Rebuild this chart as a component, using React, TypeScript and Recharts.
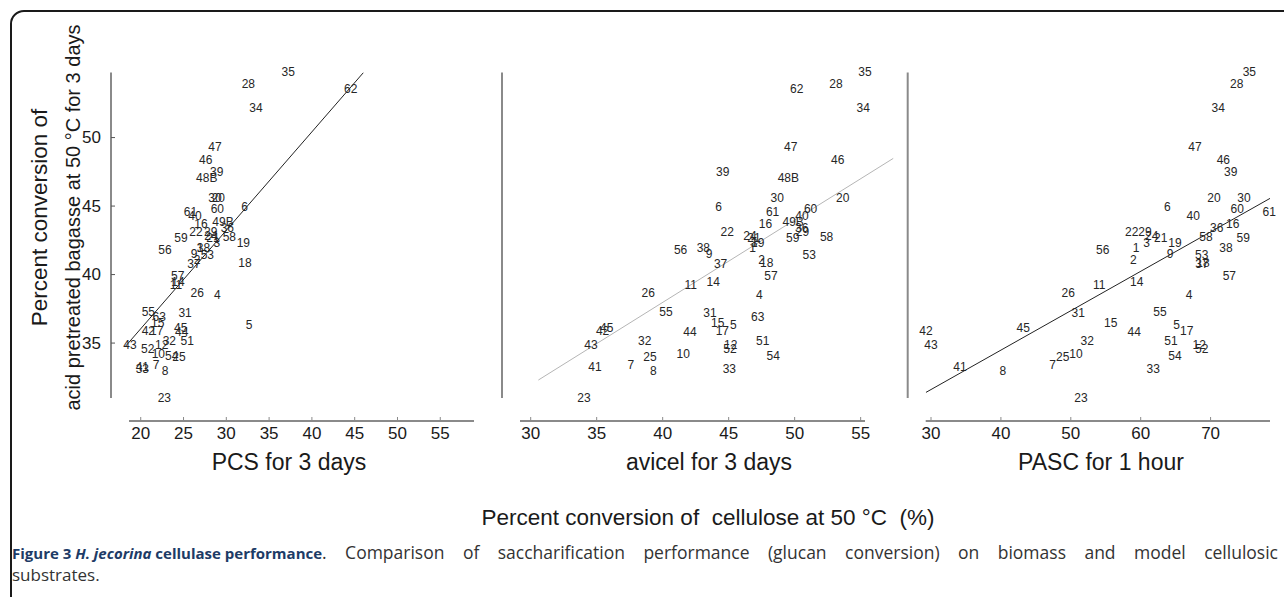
import React from "react";
import { ScatterChart, Scatter, XAxis, YAxis, ReferenceLine } from "recharts";

// strain numbers, one entry per label drawn in the panels
const strains = [
  "35", "28", "62", "34", "47", "46", "39", "48B", "30", "20", "6", "60", "61", "40", "49B", "16",
  "36", "22", "29", "24", "21", "59", "58", "3", "19", "1", "38", "56", "9", "53", "2", "18",
  "37", "57", "14", "11", "26", "4", "55", "31", "63", "15", "5", "45", "42", "17", "44", "32",
  "51", "43", "12", "52", "10", "25", "54", "7", "41", "33", "8", "23",
];

// % conversion of acid pretreated bagasse, 50 °C, 3 days (shared y of all panels)
const bagasse = [
  54.76, 53.94, 53.58, 52.17, 49.34, 48.34, 47.46, 47.08, 45.56, 45.56, 44.93, 44.76, 44.55, 44.27, 43.87, 43.66,
  43.39, 43.14, 43.14, 42.81, 42.66, 42.7, 42.72, 42.28, 42.28, 41.95, 41.96, 41.79, 41.5, 41.46, 41.09, 40.85,
  40.8, 39.89, 39.43, 39.23, 38.65, 38.53, 37.24, 37.23, 36.9, 36.46, 36.35, 36.07, 35.88, 35.85, 35.8, 35.15,
  35.15, 34.89, 34.89, 34.54, 34.2, 34.01, 34.05, 33.43, 33.27, 33.09, 32.96, 30.99,
];

// PCS, 3 days
const pcs = [
  37.24, 32.57, 44.53, 33.47, 28.68, 27.59, 28.88, 27.71, 28.68, 29.07, 32.13, 28.95, 25.82, 26.34, 29.61, 27.04,
  30.12, 26.46, 28.18, 28.21, 28.45, 24.71, 30.35, 28.88, 31.99, 26.93, 27.34, 22.84, 26.23, 27.78, 26.58, 32.18,
  26.23, 24.32, 24.36, 24.12, 26.61, 28.95, 20.89, 25.18, 22.17, 21.99, 32.65, 24.67, 20.89, 21.87, 24.79, 23.34,
  25.44, 18.75, 22.45, 20.82, 22.06, 24.47, 23.62, 21.79, 20.19, 20.19, 22.84, 22.76,
];

// avicel, 3 days
const avicel = [
  55.33, 53.13, 50.15, 55.2, 49.7, 53.26, 44.55, 49.52, 48.68, 53.64, 44.23, 51.21, 48.33, 50.55, 49.89, 47.79,
  50.53, 44.89, 50.59, 46.61, 46.92, 49.85, 52.42, 46.92, 47.2, 46.82, 43.08, 41.36, 43.51, 51.11, 47.5, 47.88,
  44.39, 48.2, 43.83, 42.12, 38.91, 47.32, 40.25, 43.58, 47.2, 44.17, 45.35, 35.76, 35.45, 44.52, 42.07, 38.64,
  47.58, 34.57, 45.15, 45.1, 41.56, 39.04, 48.38, 37.58, 34.87, 45.05, 39.29, 34.04,
];

// PASC, 1 hour (null = not shown)
const pasc = [
  75.54, 73.73, null, 71.1, 67.77, 71.82, 72.88, null, 74.78, 70.49, 63.81, 73.82, 78.4, 67.52, null, 73.16,
  70.87, 58.71, 60.62, 61.57, 62.86, 74.68, 69.34, 60.86, 64.91, 59.33, 72.2, 54.56, 64.19, 68.73, 58.94, 68.91,
  68.77, 72.68, 59.43, 54.08, 49.64, 66.91, 62.76, 51.07, null, 55.71, 65.15, 43.2, 29.28, 66.58, 59.08, 52.36,
  64.33, 30.0, 68.38, 68.73, 50.74, 48.84, 64.91, 47.41, 34.15, 61.8, 40.26, 51.46,
];

// fitted lines, end points
const pcsFit = [{ x: 18.17, y: 34.73 }, { x: 46.0, y: 54.73 }];
const avicelFit = [{ x: 30.58, y: 32.3 }, { x: 57.47, y: 48.48 }];
const pascFit = [{ x: 29.28, y: 31.4 }, { x: 78.5, y: 45.56 }];

const yTicks = [35, 40, 45, 50];
const pcsTicks = [20, 25, 30, 35, 40, 45, 50, 55];
const avicelTicks = [30, 35, 40, 45, 50, 55];
const pascTicks = [30, 40, 50, 60, 70];

const FONT = "'Liberation Sans', Arial, Helvetica, sans-serif";

// axes in the figure sit apart from the plot box
const X_SHIFT = 23;
const Y_SHIFT = -18;

type Pt = { x: number; y: number; label: string };

function buildPoints(xs: (number | null)[]): Pt[] {
  const out: Pt[] = [];
  xs.forEach((x, i) => {
    if (x != null) out.push({ x, y: bagasse[i], label: strains[i] });
  });
  return out;
}

function LabelMark(props: any) {
  const { cx, cy, payload } = props;
  if (cx == null || cy == null) return null;
  return (
    <text
      x={cx}
      y={cy}
      textAnchor="middle"
      dominantBaseline="central"
      fontSize={12}
      fontFamily={FONT}
      fill="#262626"
    >
      {payload.label}
    </text>
  );
}

function XTick(props: any) {
  const { x, y, payload } = props;
  return (
    <text
      x={x}
      y={y + 29.5}
      textAnchor="middle"
      dominantBaseline="central"
      fontSize={17}
      fontFamily={FONT}
      fill="#1a1a1a"
    >
      {payload.value}
    </text>
  );
}

function YTick(props: any) {
  const { x, y, payload } = props;
  return (
    <text
      x={x - 18}
      y={y}
      textAnchor="end"
      dominantBaseline="central"
      fontSize={17}
      fontFamily={FONT}
      fill="#1a1a1a"
    >
      {payload.value}
    </text>
  );
}

type PanelProps = {
  left: number;
  width: number;
  marginLeft: number;
  marginRight: number;
  xDomain: [number, number];
  xTicks: number[];
  points: Pt[];
  fit: { x: number; y: number }[];
  fitColor: string;
  showYLabels: boolean;
};

function Panel(p: PanelProps) {
  const xMove = `translate(0 ${X_SHIFT})`;
  const yMove = `translate(${Y_SHIFT} 0)`;
  return (
    <div style={{ position: "absolute", left: p.left, top: 0 }}>
      <ScatterChart
        width={p.width}
        height={480}
        margin={{ top: 72.5, right: p.marginRight, bottom: 52, left: p.marginLeft }}
      >
        <XAxis
          type="number"
          dataKey="x"
          domain={p.xDomain}
          ticks={p.xTicks}
          allowDataOverflow
          height={30}
          tickSize={-4}
          tickMargin={10}
          axisLine={{ stroke: "#8a8a8a", strokeWidth: 2, transform: xMove }}
          tickLine={{ stroke: "#8a8a8a", transform: xMove }}
          tick={<XTick />}
        />
        <YAxis
          type="number"
          dataKey="y"
          domain={[30.99, 54.75]}
          ticks={yTicks}
          allowDataOverflow
          width={40}
          tickSize={-4}
          tickMargin={14}
          axisLine={{ stroke: "#8a8a8a", strokeWidth: 2, transform: yMove }}
          tickLine={{ stroke: "#555", transform: yMove }}
          tick={p.showYLabels ? <YTick /> : false}
        />
        <ReferenceLine
          segment={p.fit}
          stroke={p.fitColor}
          strokeWidth={1}
          ifOverflow="visible"
        />
        <Scatter data={p.points} shape={<LabelMark />} isAnimationActive={false} />
      </ScatterChart>
    </div>
  );
}

export default function App() {
  return (
    <div
      className="fig"
      style={{
        position: "absolute",
        left: 0,
        top: 0,
        width: 1284,
        height: 597,
        overflow: "hidden",
        background: "#fff",
      }}
    >
      <style>{`
        .fig .recharts-surface { overflow: visible; }
        .fig g[clip-path] { clip-path: none !important; }
      `}</style>

      {/* frame */}
      <div
        style={{
          position: "absolute",
          left: 10,
          top: 10,
          width: 1300,
          height: 620,
          border: "2px solid #1a1a1a",
          borderRadius: 14,
          boxSizing: "border-box",
        }}
      />

      <Panel
        left={0}
        width={480}
        marginLeft={89}
        marginRight={6}
        xDomain={[18.63, 58.94]}
        xTicks={pcsTicks}
        points={buildPoints(pcs)}
        fit={pcsFit}
        fitColor="#222"
        showYLabels
      />
      <Panel
        left={420}
        width={500}
        marginLeft={60}
        marginRight={55}
        xDomain={[29.19, 55.33]}
        xTicks={avicelTicks}
        points={buildPoints(avicel)}
        fit={avicelFit}
        fitColor="#b5b5b5"
        showYLabels={false}
      />
      <Panel
        left={840}
        width={444}
        marginLeft={45.7}
        marginRight={14}
        xDomain={[29.24, 78.5]}
        xTicks={pascTicks}
        points={buildPoints(pasc)}
        fit={pascFit}
        fitColor="#222"
        showYLabels={false}
      />

      {/* axis titles */}
      <svg
        width={1284}
        height={597}
        style={{ position: "absolute", left: 0, top: 0, pointerEvents: "none" }}
        fontFamily={FONT}
        fill="#1a1a1a"
      >
        <text transform="translate(47,217.5) rotate(-90)" textAnchor="middle" fontSize={22.5}>
          Percent conversion of
        </text>
        <text transform="translate(80,217.5) rotate(-90)" textAnchor="middle" fontSize={20}>
          acid pretreated bagasse at 50 °C for 3 days
        </text>
        <text x={289} y={470} textAnchor="middle" fontSize={23}>PCS for 3 days</text>
        <text x={709} y={470} textAnchor="middle" fontSize={23}>avicel for 3 days</text>
        <text x={1101} y={470} textAnchor="middle" fontSize={23}>PASC for 1 hour</text>
        <text x={708} y={525} textAnchor="middle" fontSize={22.5} xmlSpace="preserve">
          Percent conversion of  cellulose at 50 °C  (%)
        </text>
      </svg>

      {/* caption */}
      <div
        style={{
          position: "absolute",
          left: 12,
          top: 541,
          width: 1266,
          fontFamily: "'Open Sans', sans-serif",
          lineHeight: "22px",
          color: "#333",
        }}
      >
        <div style={{ display: "flex", whiteSpace: "nowrap", alignItems: "baseline" }}>
          <span style={{ fontWeight: 700, fontSize: 15, color: "#1d3b66", flex: "none" }}>
            Figure 3 <i>H. jecorina</i> cellulase performance
          </span>
          <span
            style={{
              flex: 1,
              fontSize: 17.5,
              whiteSpace: "normal",
              textAlign: "justify",
              textAlignLast: "justify",
            }}
          >
            . Comparison of saccharification performance (glucan conversion) on biomass and model cellulosic
          </span>
        </div>
        <div style={{ fontSize: 17 }}>substrates.</div>
      </div>
    </div>
  );
}
